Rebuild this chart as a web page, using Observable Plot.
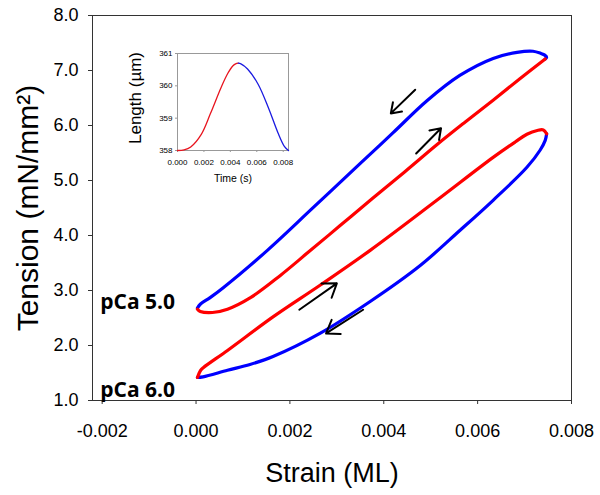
<!DOCTYPE html>
<html><head><meta charset="utf-8">
<script src="https://cdn.jsdelivr.net/npm/d3@7"></script>
<script src="https://cdn.jsdelivr.net/npm/@observablehq/plot@0.6"></script>
<style>
html,body{margin:0;padding:0;background:#fff;}
#wrap{position:relative;width:600px;height:495px;overflow:hidden;}
#inset{position:absolute;left:117px;top:43px;}
</style></head><body>
<div id="wrap"><div id="main"></div><div id="inset"></div></div>
<script>
// ---------- Main chart data ----------
// pCa 5.0 loop, stretch (red)
const pca5StretchStrain  = [0.00003, 0.00009, 0.00035, 0.00067, 0.00116, 0.00179, 0.00237, 0.00307, 0.00377, 0.00445, 0.00513, 0.00573, 0.00633, 0.00690, 0.00744];
const pca5StretchTension = [2.66, 2.62, 2.60, 2.66, 2.87, 3.27, 3.68, 4.18, 4.68, 5.16, 5.65, 6.06, 6.46, 6.85, 7.21];
// pCa 5.0 loop, release (blue)
const pca5ReleaseStrain  = [0.00744, 0.00747, 0.00743, 0.00735, 0.00718, 0.00684, 0.00633, 0.00562, 0.00492, 0.00420, 0.00350, 0.00250, 0.00152, 0.00058, 0.00030, 0.00009, 0.00003];
const pca5ReleaseTension = [7.21, 7.24, 7.28, 7.31, 7.35, 7.33, 7.22, 6.91, 6.45, 5.87, 5.31, 4.51, 3.73, 3.05, 2.87, 2.75, 2.68];
// pCa 6.0 loop, stretch (red)
const pca6StretchStrain  = [0.00003, 0.00010, 0.00016, 0.00067, 0.00164, 0.00265, 0.00371, 0.00513, 0.00633, 0.00680, 0.00705, 0.00727, 0.00740, 0.00747];
const pca6StretchTension = [1.42, 1.55, 1.60, 1.91, 2.52, 3.10, 3.73, 4.64, 5.42, 5.70, 5.84, 5.91, 5.92, 5.85];
// pCa 6.0 loop, release (blue)
const pca6ReleaseStrain  = [0.00747, 0.00744, 0.00733, 0.00705, 0.00633, 0.00562, 0.00477, 0.00371, 0.00264, 0.00164, 0.00115, 0.00067, 0.00015, 0.00003];
const pca6ReleaseTension = [5.85, 5.73, 5.55, 5.24, 4.64, 4.09, 3.45, 2.80, 2.22, 1.80, 1.655, 1.55, 1.43, 1.42];

// direction arrows (data units)
const arrowStrainFrom  = [0.00467, 0.00469, 0.00220, 0.00356];
const arrowTensionFrom = [6.65, 5.49, 2.65, 2.65];
const arrowStrainTo    = [0.00415, 0.00522, 0.00300, 0.00277];
const arrowTensionTo   = [6.22, 5.95, 3.13, 2.22];

// loop labels
const loopLabels       = ["pCa 5.0", "pCa 6.0"];
const loopLabelStrain  = [-0.00204, -0.00204];
const loopLabelTension = [2.78, 1.18];

// axes
const xTicks = [-0.002, 0.000, 0.002, 0.004, 0.006, 0.008];
const yTicks = [1, 2, 3, 4, 5, 6, 7, 8];
const xTitle = "Strain (ML)";
const yTitle = "Tension (mN/mm\u00B2)";

// ---------- Inset data ----------
const insetRiseTime   = [0, 0.0005, 0.001, 0.0018, 0.0025, 0.0033, 0.0038, 0.0042, 0.0044, 0.0046];
const insetRiseLength = [358.0, 358.02, 358.11, 358.5, 359.15, 359.95, 360.38, 360.62, 360.68, 360.70];
const insetFallTime   = [0.0046, 0.0048, 0.0053, 0.0061, 0.0069, 0.0076, 0.0081, 0.0084];
const insetFallLength = [360.70, 360.68, 360.52, 360.05, 359.3, 358.55, 358.12, 358.0];
const insetXTicks = [0, 0.002, 0.004, 0.006, 0.008];
const insetYTicks = [358, 359, 360, 361];
const insetXTitle = "Time (s)";
const insetYTitle = "Length (\u00B5m)";

// ---------- build rows ----------
const rows = (xs, ys, loop) => xs.map((x, i) => ({strain: x, tension: ys[i], loop}));
const stretchRows = [...rows(pca5StretchStrain, pca5StretchTension, "5.0"), ...rows(pca6StretchStrain, pca6StretchTension, "6.0")];
const releaseRows = [...rows(pca5ReleaseStrain, pca5ReleaseTension, "5.0"), ...rows(pca6ReleaseStrain, pca6ReleaseTension, "6.0")];
const arrowRows = arrowStrainFrom.map((x, i) => ({x1: x, y1: arrowTensionFrom[i], x2: arrowStrainTo[i], y2: arrowTensionTo[i]}));
const labelRows = loopLabels.map((t, i) => ({text: t, strain: loopLabelStrain[i], tension: loopLabelTension[i]}));
const riseRows = insetRiseTime.map((t, i) => ({t, L: insetRiseLength[i]}));
const fallRows = insetFallTime.map((t, i) => ({t, L: insetFallLength[i]}));

const FONT = "'Liberation Sans', Arial, sans-serif";

const main = Plot.plot({
  width: 600, height: 495,
  marginLeft: 92, marginRight: 29, marginTop: 15, marginBottom: 95,
  style: {fontFamily: FONT, fontSize: "18px", background: "#fff", color: "#000", overflow: "visible"},
  x: {domain: [-0.002206, 0.008]},
  y: {domain: [1, 8]},
  marks: [
    Plot.frame({stroke: "#333", strokeWidth: 1}),
    Plot.axisX({ticks: xTicks, tickFormat: d => d.toFixed(3), tickSize: 4, tickPadding: 20, label: null, stroke: "#333"}),
    Plot.axisY({ticks: yTicks, tickFormat: d => d.toFixed(1), tickSize: 4, tickPadding: 10, label: null, stroke: "#333"}),
    Plot.line(releaseRows, {x: "strain", y: "tension", z: "loop", stroke: "#0000ff", strokeWidth: 3.2, curve: "catmull-rom"}),
    Plot.line(stretchRows, {x: "strain", y: "tension", z: "loop", stroke: "#ff0000", strokeWidth: 3.2, curve: "catmull-rom"}),
    Plot.arrow(arrowRows, {x1: "x1", y1: "y1", x2: "x2", y2: "y2", stroke: "#000", strokeWidth: 2, headLength: 12, headAngle: 70}),
    Plot.text(labelRows, {x: "strain", y: "tension", text: "text", textAnchor: "start", fontWeight: "bold", fontSize: 21, fontFamily: "'Open Sans', sans-serif", fill: "#000"}),
    Plot.text([yTitle], {text: d => d, frameAnchor: "left", textAnchor: "middle", lineAnchor: "middle", dx: -64.6, rotate: -90, fontSize: 30, fill: "#000"}),
    Plot.text([xTitle], {text: d => d, frameAnchor: "bottom", textAnchor: "middle", lineAnchor: "middle", dy: 73, fontSize: 27, fill: "#000"})
  ]
});
document.getElementById("main").appendChild(main);

const inset = Plot.plot({
  width: 177, height: 142,
  marginLeft: 60, marginRight: 6, marginTop: 10, marginBottom: 35,
  style: {fontFamily: FONT, fontSize: "8px", background: "transparent", color: "#000", overflow: "visible"},
  x: {domain: [0, 0.0084]},
  y: {domain: [358, 361]},
  marks: [
    Plot.frame({stroke: "#999", strokeWidth: 1}),
    Plot.axisX({ticks: insetXTicks, tickFormat: d => d.toFixed(3), tickSize: 2, tickPadding: 7, label: null, stroke: "#999"}),
    Plot.axisY({ticks: insetYTicks, tickFormat: d => d.toFixed(0), tickSize: 2, tickPadding: 3, label: null, stroke: "#999"}),
    Plot.line(riseRows, {x: "t", y: "L", stroke: "#e8141e", strokeWidth: 1.3, curve: "catmull-rom"}),
    Plot.line(fallRows, {x: "t", y: "L", stroke: "#1a1ae0", strokeWidth: 1.3, curve: "catmull-rom"}),
    Plot.text([insetXTitle], {text: d => d, frameAnchor: "bottom", textAnchor: "middle", lineAnchor: "middle", dy: 28, fontSize: 10.5, fill: "#000"}),
    Plot.text([insetYTitle], {text: d => d, frameAnchor: "left", textAnchor: "middle", lineAnchor: "middle", dx: -42.4, dy: -4, rotate: -90, fontSize: 17, fill: "#000"})
  ]
});
document.getElementById("inset").appendChild(inset);
</script>
</body></html>
